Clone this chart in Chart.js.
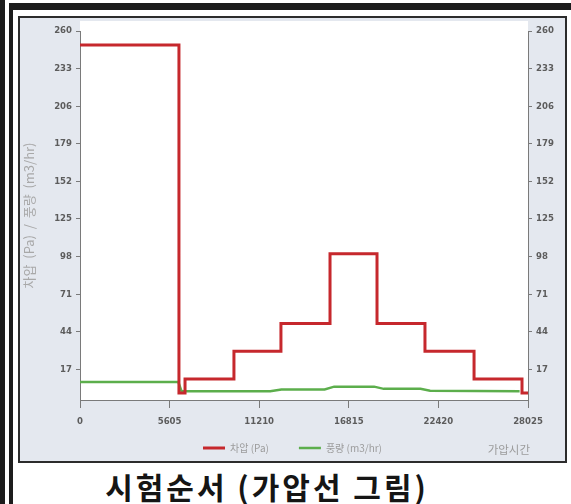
<!DOCTYPE html>
<html>
<head>
<meta charset="utf-8">
<script src="https://cdn.jsdelivr.net/npm/chart.js@4/dist/chart.umd.min.js"></script>
<style>
  body { margin: 0; width: 571px; height: 504px; background: #fff; position: relative; overflow: hidden; }
  .bar { position: absolute; background: #1c1c1c; }
  #panel { position: absolute; left: 18px; top: 16px; width: 549px; height: 447px; box-sizing: border-box;
    border: 2px solid #2c2c2c; background: #e4e8ef; }
  #wrap { position: absolute; left: 18px; top: 16px; width: 549px; height: 447px; }
  #title { position: absolute; left: 0; top: 471px; width: 534px; text-align: center;
    font: bold 30px "Noto Sans CJK KR", sans-serif; line-height: 1; letter-spacing: 3px; color: #151515; }
</style>
</head>
<body>
<div class="bar" style="left:0;top:0;width:5px;height:504px"></div>
<div class="bar" style="left:9px;top:3px;width:4px;height:501px"></div>
<div class="bar" style="left:9px;top:3px;width:562px;height:7px"></div>
<div id="panel"></div>
<div id="wrap"><canvas id="chart" width="549" height="447"></canvas></div>
<div id="title">시험순서 (가압선 그림)</div>
<script>
  // axis ticks as printed on the chart
  const xTicks = [0, 5605, 11210, 16815, 22420, 28025];
  const yTicks = [17, 44, 71, 98, 125, 152, 179, 206, 233, 260];

  // 차압 (Pa): stepped pressure profile
  const pressureTime = [0, 6190, 6570, 9630, 12570, 15640, 18580, 21580, 24650, 27650, 28025];
  const pressureValue = [250, 0, 10, 30, 50, 100, 50, 30, 10, 0, 0];

  // 풍량 (m3/hr)
  const flowTime = [0, 6150, 6350, 11900, 12600, 15300, 15900, 18400, 19000, 21300, 21900, 27500];
  const flowValue = [8, 8, 1.3, 1.3, 2.6, 2.6, 4.6, 4.6, 3, 3, 1.6, 1.2];

  const tickFont = { family: "'Liberation Sans Narrow', 'DejaVu Sans Condensed', sans-serif", size: 9.5, weight: "bold" };
  const tickColor = "#5c5c5c";
  const axisColor = "#7a7a7a";

  const plotBackground = {
    id: "plotBackground",
    beforeDraw(chart) {
      const a = chart.chartArea;
      const ctx = chart.ctx;
      ctx.save();
      ctx.fillStyle = "#ffffff";
      ctx.fillRect(a.left, a.top - 10, a.right - a.left, a.bottom - a.top + 10);
      ctx.restore();
    },
    afterDraw(chart) {
      const boxes = chart.legend.legendHitBoxes;
      if (!boxes || !boxes.length) return;
      const ctx = chart.ctx;
      const y = boxes[0].top + boxes[0].height / 2;
      ctx.save();
      ctx.font = "11.5px 'Noto Sans CJK KR', sans-serif";
      ctx.fillStyle = "#9c9c9c";
      ctx.textAlign = "right";
      ctx.textBaseline = "middle";
      ctx.fillText("가압시간", chart.chartArea.right + 2, y + 2);
      ctx.restore();
    },
  };

  const yAxis = (position, width) => ({
    type: "linear",
    position: position,
    min: -5,
    max: 260,
    afterBuildTicks: (scale) => { scale.ticks = yTicks.map((v) => ({ value: v })); },
    afterFit: (scale) => { scale.width = width; },
    grid: { display: true, drawOnChartArea: false, tickLength: 4, color: axisColor },
    border: { display: true, color: axisColor, width: 1 },
    ticks: { font: tickFont, color: tickColor, padding: 4, callback: (v) => String(v) },
  });

  const left = yAxis("left", 62);
  left.title = {
    display: true,
    text: "차압  (Pa)  /  풍량  (m3/hr)",
    color: "#a8a8a8",
    font: { family: "'Noto Sans CJK KR', sans-serif", size: 13 },
    padding: { top: 3, bottom: 2 },
  };
  const right = yAxis("right", 39);

  new Chart(document.getElementById("chart"), {
    type: "line",
    data: {
      datasets: [
        {
          label: "차압 (Pa)",
          data: pressureTime.map((t, i) => ({ x: t, y: pressureValue[i] })),
          borderColor: "#c6282d",
          backgroundColor: "#c6282d",
          borderWidth: 3,
          stepped: true,
          pointRadius: 0,
          pointStyle: "line",
          yAxisID: "y",
        },
        {
          label: "풍량 (m3/hr)",
          data: flowTime.map((t, i) => ({ x: t, y: flowValue[i] })),
          borderColor: "#5cae4c",
          backgroundColor: "#5cae4c",
          borderWidth: 2.5,
          tension: 0,
          pointRadius: 0,
          pointStyle: "line",
          yAxisID: "y",
        },
      ],
    },
    options: {
      responsive: false,
      animation: false,
      layout: { padding: { top: 15, left: 0, right: 0, bottom: 0 } },
      plugins: {
        tooltip: { enabled: false },
        legend: {
          position: "bottom",
          labels: {
            usePointStyle: true,
            pointStyleWidth: 22,
            padding: 10,
            color: "#9c9c9c",
            font: { family: "'Noto Sans CJK KR', sans-serif", size: 10 },
            generateLabels: (chart) =>
              Chart.defaults.plugins.legend.labels.generateLabels(chart).map((l, i) => {
                if (i === 0) l.text = l.text + "\u2003\u2003";
                return l;
              }),
          },
        },
      },
      scales: {
        x: {
          type: "linear",
          min: 0,
          max: 28025,
          afterBuildTicks: (scale) => { scale.ticks = xTicks.map((v) => ({ value: v })); },
          afterFit: (scale) => { scale.height = 33; },
          grid: { display: true, drawOnChartArea: false, tickLength: 8, color: axisColor },
          border: { display: true, color: axisColor, width: 1 },
          ticks: { font: tickFont, color: tickColor, padding: 8, maxRotation: 0, callback: (v) => String(v) },
        },
        y: left,
        y2: right,
      },
    },
    plugins: [plotBackground],
  });
</script>
</body>
</html>
